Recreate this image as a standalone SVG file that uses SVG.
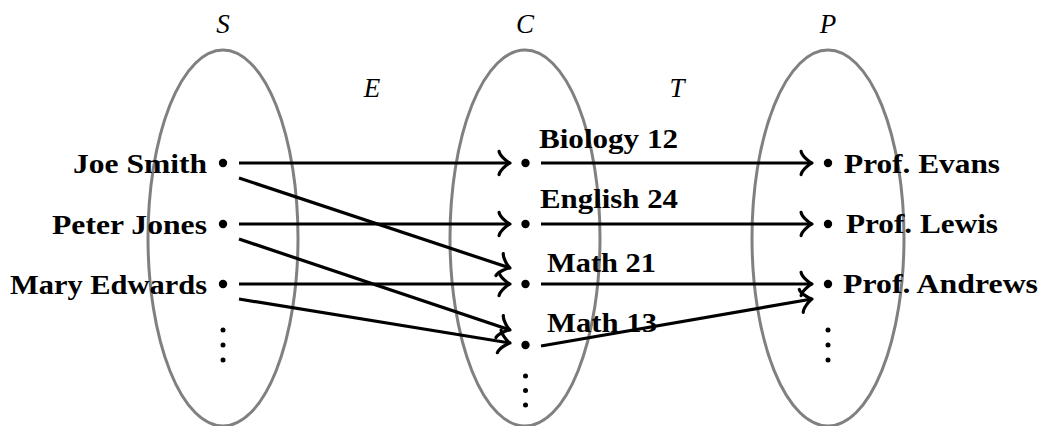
<svg xmlns="http://www.w3.org/2000/svg" width="1042" height="426" viewBox="0 0 1042 426">
<style>
.set{fill:none;stroke:#808080;stroke-width:3}
.lbl{font-family:"Liberation Serif",serif;font-style:italic;font-size:27px;fill:#000;text-anchor:middle}
.nm{font-family:"Liberation Serif",serif;font-weight:bold;font-size:27px;fill:#000}
.edge{stroke:#000;stroke-width:3.2;fill:none;marker-end:url(#to)}
.dot{fill:#000}
</style>
<defs>
<marker id="to" markerUnits="userSpaceOnUse" viewBox="-14 -14 18 28" markerWidth="18" markerHeight="28" refX="0" refY="0" orient="auto" overflow="visible">
<path d="M -10.9,11.6 C -10.2,7.25 -2.2,0.7 0,0 C -2.2,-0.7 -10.2,-7.25 -10.9,-11.6" fill="none" stroke="#000" stroke-width="3.2" stroke-linecap="round" stroke-linejoin="round"/>
</marker>
</defs>
<g id="setS">
<ellipse class="set" cx="223" cy="238" rx="75" ry="188"/>
<text class="lbl" x="223" y="33">S</text>
</g>
<g id="setC">
<ellipse class="set" cx="525" cy="238" rx="75" ry="188"/>
<text class="lbl" x="525" y="33">C</text>
</g>
<g id="setP">
<ellipse class="set" cx="828" cy="238" rx="76" ry="188"/>
<text class="lbl" x="828" y="33">P</text>
</g>
<g id="labelE"><text class="lbl" x="372" y="97">E</text></g>
<g id="labelT"><text class="lbl" x="677" y="97">T</text></g>

<g id="joe"><circle class="dot" cx="223" cy="163" r="4.2"/><text class="nm" x="73" y="173" textLength="134" lengthAdjust="spacingAndGlyphs">Joe Smith</text></g>
<g id="peter"><circle class="dot" cx="223" cy="224" r="4.2"/><text class="nm" x="52" y="234" textLength="155" lengthAdjust="spacingAndGlyphs">Peter Jones</text></g>
<g id="mary"><circle class="dot" cx="223" cy="284" r="4.2"/><text class="nm" x="10" y="294" textLength="197" lengthAdjust="spacingAndGlyphs">Mary Edwards</text></g>
<g id="sdots"><circle class="dot" cx="223" cy="330" r="2.5"/><circle class="dot" cx="223" cy="345" r="2.5"/><circle class="dot" cx="223" cy="360" r="2.5"/></g>

<g id="bio"><circle class="dot" cx="525.5" cy="163" r="4.2"/><text class="nm" x="539" y="148" textLength="139" lengthAdjust="spacingAndGlyphs">Biology 12</text></g>
<g id="eng"><circle class="dot" cx="525.5" cy="224" r="4.2"/><text class="nm" x="540" y="208" textLength="138" lengthAdjust="spacingAndGlyphs">English 24</text></g>
<g id="math21"><circle class="dot" cx="525.5" cy="284" r="4.2"/><text class="nm" x="547" y="272" textLength="109" lengthAdjust="spacingAndGlyphs">Math 21</text></g>
<g id="math13"><circle class="dot" cx="525.5" cy="345" r="4.2"/><text class="nm" x="547" y="332" textLength="110" lengthAdjust="spacingAndGlyphs">Math 13</text></g>
<g id="cdots"><circle class="dot" cx="525.5" cy="376" r="2.5"/><circle class="dot" cx="525.5" cy="390.5" r="2.5"/><circle class="dot" cx="525.5" cy="405" r="2.5"/></g>

<g id="evans"><circle class="dot" cx="828" cy="163" r="4.2"/><text class="nm" x="844" y="173" textLength="156" lengthAdjust="spacingAndGlyphs">Prof.  Evans</text></g>
<g id="lewis"><circle class="dot" cx="828" cy="224" r="4.2"/><text class="nm" x="846" y="233" textLength="152" lengthAdjust="spacingAndGlyphs">Prof.  Lewis</text></g>
<g id="andrews"><circle class="dot" cx="828" cy="284" r="4.2"/><text class="nm" x="843" y="293" textLength="195" lengthAdjust="spacingAndGlyphs">Prof.  Andrews</text></g>
<g id="pdots"><circle class="dot" cx="828" cy="330" r="2.5"/><circle class="dot" cx="828" cy="345" r="2.5"/><circle class="dot" cx="828" cy="360" r="2.5"/></g>

<g id="connectors">
<line class="edge" x1="239" y1="163" x2="510" y2="163"/>
<line class="edge" x1="239" y1="178" x2="510" y2="268"/>
<line class="edge" x1="239" y1="224" x2="510" y2="224"/>
<line class="edge" x1="239" y1="239" x2="510" y2="330"/>
<line class="edge" x1="239" y1="284" x2="510" y2="284"/>
<line class="edge" x1="239" y1="299" x2="510" y2="343"/>
<line class="edge" x1="541" y1="163" x2="812" y2="163"/>
<line class="edge" x1="541" y1="224" x2="812" y2="224"/>
<line class="edge" x1="541" y1="284" x2="812" y2="284"/>
<line class="edge" x1="541" y1="346" x2="812" y2="299"/>
</g>
</svg>
